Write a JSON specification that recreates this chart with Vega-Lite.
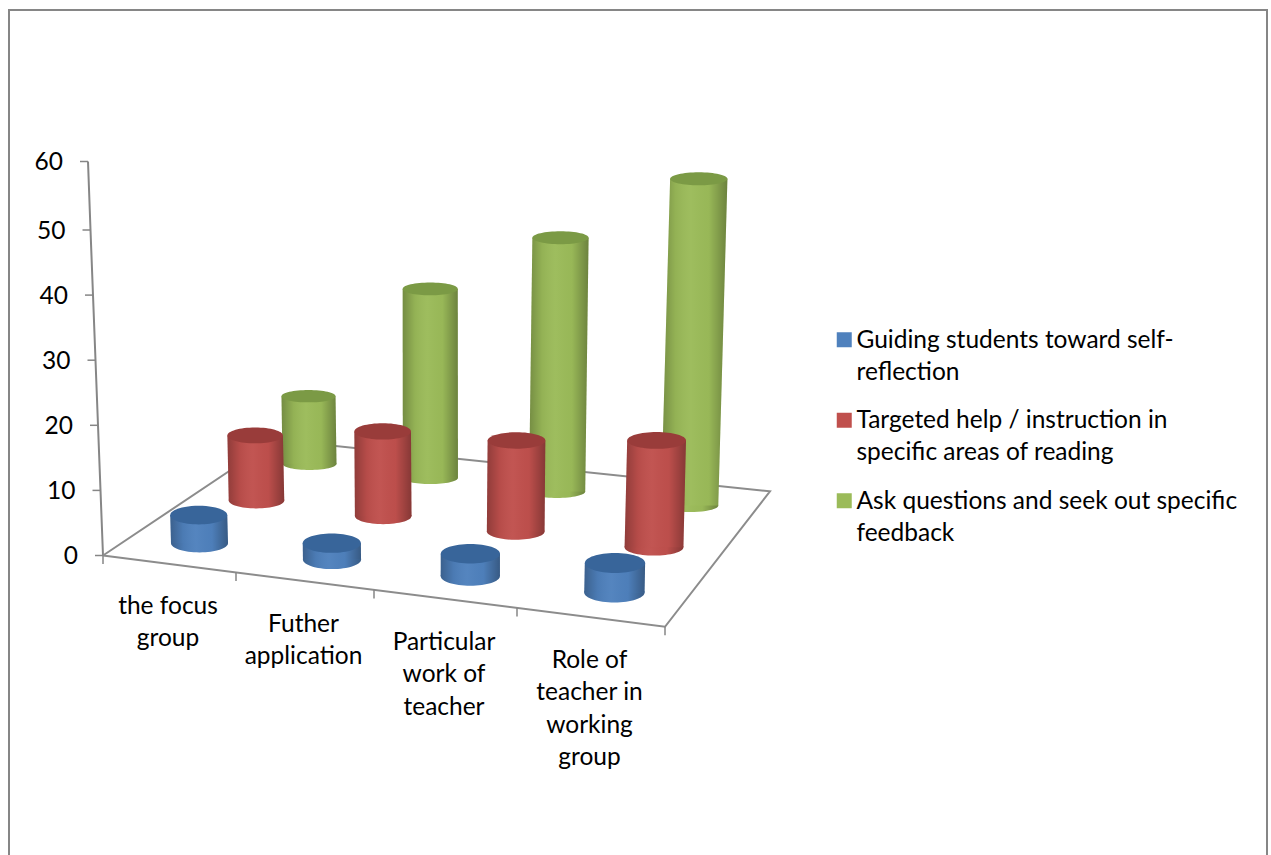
{
"$schema":"https://vega.github.io/schema/vega-lite/v6.json",
"width":1258,"height":850,"autosize":"none",
"padding":{"left":9,"top":10,"right":4,"bottom":0},
"background":"white",
"config":{"view":{"stroke":"#868686","strokeWidth":2},"font":"Lato"},
"datasets":{
"rows":[
{"category":"the focus group","series":"Guiding students toward self-reflection","value":4.3},
{"category":"Futher application","series":"Guiding students toward self-reflection","value":2.5},
{"category":"Particular work of teacher","series":"Guiding students toward self-reflection","value":3.4},
{"category":"Role of teacher in working group","series":"Guiding students toward self-reflection","value":4.5},
{"category":"the focus group","series":"Targeted help / instruction in specific areas of reading","value":10},
{"category":"Futher application","series":"Targeted help / instruction in specific areas of reading","value":13},
{"category":"Particular work of teacher","series":"Targeted help / instruction in specific areas of reading","value":14},
{"category":"Role of teacher in working group","series":"Targeted help / instruction in specific areas of reading","value":16.4},
{"category":"the focus group","series":"Ask questions and seek out specific feedback","value":10.4},
{"category":"Futher application","series":"Ask questions and seek out specific feedback","value":29},
{"category":"Particular work of teacher","series":"Ask questions and seek out specific feedback","value":39},
{"category":"Role of teacher in working group","series":"Ask questions and seek out specific feedback","value":49.8}
],
"ticks":[{"v":0},{"v":10},{"v":20},{"v":30},{"v":40},{"v":50},{"v":60}],
"floor":[{"corner":"front left","seq":0},{"corner":"front right","seq":1},{"corner":"back right","seq":2},{"corner":"back left","seq":3},{"corner":"front left","seq":4}],
"bounds":[{"k":0},{"k":1},{"k":2},{"k":3},{"k":4}],
"labels":[{"label":"the focus\ngroup","n":0},{"label":"Futher\napplication","n":1},{"label":"Particular\nwork of\nteacher","n":2},{"label":"Role of\nteacher in\nworking\ngroup","n":3}]
},
"layer":[
{"data":{"name":"ticks"},"transform":[{"calculate":"94-datum.v*0.25","as":"x"},{"calculate":"datum.x-8","as":"x2"},{"calculate":"datum.x-25","as":"xl"}],
 "layer":[
 {"mark":{"type":"line","color":"#868686","strokeWidth":2},
  "encoding":{"x":{"field":"x","type":"quantitative","scale":{"domain":[0,1258],"nice":false,"zero":false},"axis":null},
   "y":{"field":"v","type":"quantitative","scale":{"domain":[-46.35,0,50,60,83.03],"range":[850,545.5,220,151.5,0],"nice":false,"zero":false},"axis":null},
   "order":{"field":"v"}}},
 {"mark":{"type":"rule","color":"#868686","strokeWidth":1.5},
  "encoding":{"x":{"field":"x","type":"quantitative","axis":null},"x2":{"field":"x2"},"y":{"field":"v","type":"quantitative","axis":null}}},
 {"mark":{"type":"text","font":"Lato","fontSize":24.5,"align":"right","baseline":"middle","dy":1.5,"color":"#000000"},
  "encoding":{"x":{"field":"xl","type":"quantitative","axis":null},"y":{"field":"v","type":"quantitative","axis":null},"text":{"field":"v","type":"quantitative"}}}
 ]},
{"data":{"name":"floor"},
 "transform":[{"calculate":"indexof(['front left','front right','back right','back left'],datum.corner)","as":"c"},
  {"calculate":"(datum.c==1||datum.c==2)?4:0","as":"k"},{"calculate":"datum.c>=2?1:0","as":"d"},
  {"calculate":"94+130.5*datum.k+2.5*datum.k*datum.k","as":"fx"},
  {"calculate":"datum.fx+datum.d*(173-17*datum.k)","as":"x"},
  {"calculate":"(-(datum.fx-94)*0.1268+datum.d*(116.8+4.8*datum.k))/6.57","as":"y"}],
 "mark":{"type":"line","color":"#8c8c8c","strokeWidth":2},
 "encoding":{"x":{"field":"x","type":"quantitative","axis":null},"y":{"field":"y","type":"quantitative","axis":null},"order":{"field":"seq"}}},
{"data":{"name":"bounds"},
 "transform":[{"calculate":"94+130.5*datum.k+2.5*datum.k*datum.k","as":"x"},
  {"calculate":"-(datum.x-94)*0.1268/6.57","as":"y"},{"calculate":"datum.y-1.3","as":"y2"}],
 "mark":{"type":"rule","color":"#868686","strokeWidth":1.5},
 "encoding":{"x":{"field":"x","type":"quantitative","axis":null},"y":{"field":"y","type":"quantitative","axis":null},"y2":{"field":"y2"}}},
{"data":{"name":"labels"},
 "transform":[{"calculate":"159+133*datum.n+2.5*datum.n*datum.n","as":"x"},{"calculate":"(555.5-595-18*datum.n)/6.57","as":"y"}],
 "mark":{"type":"text","lineBreak":"\n","lineHeight":32.5,"font":"Lato","fontSize":24.5,"baseline":"top","align":"center","color":"#000000"},
 "encoding":{"x":{"field":"x","type":"quantitative","axis":null},"y":{"field":"y","type":"quantitative","axis":null},"text":{"field":"label"}}},
{"data":{"name":"rows"},
 "transform":[
 {"calculate":"indexof(['the focus group','Futher application','Particular work of teacher','Role of teacher in working group'],datum.category)","as":"i"},
 {"calculate":"indexof(['Guiding students toward self-reflection','Targeted help / instruction in specific areas of reading','Ask questions and seek out specific feedback'],datum.series)","as":"s"},
 {"calculate":"190.5+129.6*datum.i+2.9*datum.i*datum.i+datum.s*(57-5.8*datum.i)-2*datum.s*(datum.s-1)","as":"x"},
 {"calculate":"(12.5-16.5*datum.i+datum.s*(43+0.8*datum.i)-datum.s*(datum.s-1)/2*(6-0.9*datum.i))/6.57","as":"yb"},
 {"calculate":"datum.yb+datum.value","as":"yt"},
 {"calculate":"datum.x+datum.value*6.57*(-0.038+(datum.x-91)*0.000112)","as":"xt"},
 {"calculate":"57+1.1*datum.i-1.5*datum.s","as":"w"},
 {"calculate":"datum.w*datum.w","as":"sz"}],
 "layer":[
 {"transform":[{"filter":"datum.s==2"}],"layer":[
  {"mark":{"type":"point","filled":true,"opacity":1,"color":"#9BBB59","shape":"M-1,0C-1,-0.127,-0.552,-0.23,0,-0.23C0.552,-0.23,1,-0.127,1,0C1,0.127,0.552,0.23,0,0.23C-0.552,0.23,-1,0.127,-1,0Z"},
   "encoding":{"x":{"field":"x","type":"quantitative","axis":null},"y":{"field":"yb","type":"quantitative","axis":null},"size":{"field":"sz","type":"quantitative","scale":null}}},
  {"mark":{"type":"point","filled":true,"opacity":1,"fill":{"gradient":"linear","x1":0,"y1":0,"x2":1,"y2":0,"stops":[{"offset":0,"color":"rgba(0,0,0,0.25)"},{"offset":0.22,"color":"rgba(0,0,0,0.05)"},{"offset":0.45,"color":"rgba(255,255,255,0.03)"},{"offset":0.72,"color":"rgba(0,0,0,0.02)"},{"offset":1,"color":"rgba(0,0,0,0.3)"}]},"shape":"M-1,0C-1,-0.127,-0.552,-0.23,0,-0.23C0.552,-0.23,1,-0.127,1,0C1,0.127,0.552,0.23,0,0.23C-0.552,0.23,-1,0.127,-1,0Z"},
   "encoding":{"x":{"field":"x","type":"quantitative","axis":null},"y":{"field":"yb","type":"quantitative","axis":null},"size":{"field":"sz","type":"quantitative","scale":null}}},
  {"transform":[{"fold":["yb","yt"],"as":["end","yy"]},{"calculate":"(datum.end=='yb'?datum.x:datum.xt)-datum.w/2","as":"l"},{"calculate":"datum.l+datum.w","as":"r"}],
   "layer":[
   {"mark":{"type":"area","orient":"horizontal","opacity":1},
    "encoding":{"x":{"field":"l","type":"quantitative","axis":null},"x2":{"field":"r"},"y":{"field":"yy","type":"quantitative","axis":null},"detail":{"field":"category"},
     "color":{"field":"series","type":"nominal","scale":{"domain":["Guiding students toward self-reflection","Targeted help / instruction in specific areas of reading","Ask questions and seek out specific feedback"],"range":["#4F81BD","#C0504D","#9BBB59"]},
      "legend":{"orient":"none","legendX":823,"legendY":317.5,"title":null,"symbolType":"square","symbolSize":225,"symbolStrokeWidth":0,"labelFont":"Lato","labelFontSize":24.5,"labelColor":"#000000","labelLimit":500,"labelOffset":0,"rowPadding":23.5,"labelBaseline":"alphabetic",
       "labelExpr":"datum.label=='Guiding students toward self-reflection'?['Guiding students toward self-','reflection']:datum.label=='Targeted help / instruction in specific areas of reading'?['Targeted help / instruction in','specific areas of reading']:['Ask questions and seek out specific','feedback']",
       "encoding":{"labels":{"dy":{"value":8},"lineHeight":{"value":32}}}}}}},
   {"mark":{"type":"area","orient":"horizontal","fill":{"gradient":"linear","x1":0,"y1":0,"x2":1,"y2":0,"stops":[{"offset":0,"color":"rgba(0,0,0,0.25)"},{"offset":0.22,"color":"rgba(0,0,0,0.05)"},{"offset":0.45,"color":"rgba(255,255,255,0.03)"},{"offset":0.72,"color":"rgba(0,0,0,0.02)"},{"offset":1,"color":"rgba(0,0,0,0.3)"}]}},
    "encoding":{"x":{"field":"l","type":"quantitative","axis":null},"x2":{"field":"r"},"y":{"field":"yy","type":"quantitative","axis":null},"detail":{"field":"category"}}}
   ]},
  {"mark":{"type":"point","filled":true,"opacity":1,"color":"#7B9A45","shape":"M-1,0C-1,-0.127,-0.552,-0.23,0,-0.23C0.552,-0.23,1,-0.127,1,0C1,0.127,0.552,0.23,0,0.23C-0.552,0.23,-1,0.127,-1,0Z"},
   "encoding":{"x":{"field":"xt","type":"quantitative","axis":null},"y":{"field":"yt","type":"quantitative","axis":null},"size":{"field":"sz","type":"quantitative","scale":null}}}
 ]},
 {"transform":[{"filter":"datum.s==1"}],"layer":[
  {"mark":{"type":"point","filled":true,"opacity":1,"color":"#C0504D","shape":"M-1,0C-1,-0.157,-0.552,-0.285,0,-0.285C0.552,-0.285,1,-0.157,1,0C1,0.157,0.552,0.285,0,0.285C-0.552,0.285,-1,0.157,-1,0Z"},
   "encoding":{"x":{"field":"x","type":"quantitative","axis":null},"y":{"field":"yb","type":"quantitative","axis":null},"size":{"field":"sz","type":"quantitative","scale":null}}},
  {"mark":{"type":"point","filled":true,"opacity":1,"fill":{"gradient":"linear","x1":0,"y1":0,"x2":1,"y2":0,"stops":[{"offset":0,"color":"rgba(0,0,0,0.25)"},{"offset":0.22,"color":"rgba(0,0,0,0.05)"},{"offset":0.45,"color":"rgba(255,255,255,0.03)"},{"offset":0.72,"color":"rgba(0,0,0,0.02)"},{"offset":1,"color":"rgba(0,0,0,0.3)"}]},"shape":"M-1,0C-1,-0.157,-0.552,-0.285,0,-0.285C0.552,-0.285,1,-0.157,1,0C1,0.157,0.552,0.285,0,0.285C-0.552,0.285,-1,0.157,-1,0Z"},
   "encoding":{"x":{"field":"x","type":"quantitative","axis":null},"y":{"field":"yb","type":"quantitative","axis":null},"size":{"field":"sz","type":"quantitative","scale":null}}},
  {"transform":[{"fold":["yb","yt"],"as":["end","yy"]},{"calculate":"(datum.end=='yb'?datum.x:datum.xt)-datum.w/2","as":"l"},{"calculate":"datum.l+datum.w","as":"r"}],
   "layer":[
   {"mark":{"type":"area","orient":"horizontal","opacity":1},
    "encoding":{"x":{"field":"l","type":"quantitative","axis":null},"x2":{"field":"r"},"y":{"field":"yy","type":"quantitative","axis":null},"detail":{"field":"category"},"color":{"field":"series","type":"nominal"}}},
   {"mark":{"type":"area","orient":"horizontal","fill":{"gradient":"linear","x1":0,"y1":0,"x2":1,"y2":0,"stops":[{"offset":0,"color":"rgba(0,0,0,0.25)"},{"offset":0.22,"color":"rgba(0,0,0,0.05)"},{"offset":0.45,"color":"rgba(255,255,255,0.03)"},{"offset":0.72,"color":"rgba(0,0,0,0.02)"},{"offset":1,"color":"rgba(0,0,0,0.3)"}]}},
    "encoding":{"x":{"field":"l","type":"quantitative","axis":null},"x2":{"field":"r"},"y":{"field":"yy","type":"quantitative","axis":null},"detail":{"field":"category"}}}
   ]},
  {"mark":{"type":"point","filled":true,"opacity":1,"color":"#993C3A","shape":"M-1,0C-1,-0.157,-0.552,-0.285,0,-0.285C0.552,-0.285,1,-0.157,1,0C1,0.157,0.552,0.285,0,0.285C-0.552,0.285,-1,0.157,-1,0Z"},
   "encoding":{"x":{"field":"xt","type":"quantitative","axis":null},"y":{"field":"yt","type":"quantitative","axis":null},"size":{"field":"sz","type":"quantitative","scale":null}}}
 ]},
 {"transform":[{"filter":"datum.s==0"}],"layer":[
  {"mark":{"type":"point","filled":true,"opacity":1,"color":"#4F81BD","shape":"M-1,0C-1,-0.182,-0.552,-0.33,0,-0.33C0.552,-0.33,1,-0.182,1,0C1,0.182,0.552,0.33,0,0.33C-0.552,0.33,-1,0.182,-1,0Z"},
   "encoding":{"x":{"field":"x","type":"quantitative","axis":null},"y":{"field":"yb","type":"quantitative","axis":null},"size":{"field":"sz","type":"quantitative","scale":null}}},
  {"mark":{"type":"point","filled":true,"opacity":1,"fill":{"gradient":"linear","x1":0,"y1":0,"x2":1,"y2":0,"stops":[{"offset":0,"color":"rgba(0,0,0,0.25)"},{"offset":0.22,"color":"rgba(0,0,0,0.05)"},{"offset":0.45,"color":"rgba(255,255,255,0.03)"},{"offset":0.72,"color":"rgba(0,0,0,0.02)"},{"offset":1,"color":"rgba(0,0,0,0.3)"}]},"shape":"M-1,0C-1,-0.182,-0.552,-0.33,0,-0.33C0.552,-0.33,1,-0.182,1,0C1,0.182,0.552,0.33,0,0.33C-0.552,0.33,-1,0.182,-1,0Z"},
   "encoding":{"x":{"field":"x","type":"quantitative","axis":null},"y":{"field":"yb","type":"quantitative","axis":null},"size":{"field":"sz","type":"quantitative","scale":null}}},
  {"transform":[{"fold":["yb","yt"],"as":["end","yy"]},{"calculate":"(datum.end=='yb'?datum.x:datum.xt)-datum.w/2","as":"l"},{"calculate":"datum.l+datum.w","as":"r"}],
   "layer":[
   {"mark":{"type":"area","orient":"horizontal","opacity":1},
    "encoding":{"x":{"field":"l","type":"quantitative","axis":null},"x2":{"field":"r"},"y":{"field":"yy","type":"quantitative","axis":null},"detail":{"field":"category"},"color":{"field":"series","type":"nominal"}}},
   {"mark":{"type":"area","orient":"horizontal","fill":{"gradient":"linear","x1":0,"y1":0,"x2":1,"y2":0,"stops":[{"offset":0,"color":"rgba(0,0,0,0.25)"},{"offset":0.22,"color":"rgba(0,0,0,0.05)"},{"offset":0.45,"color":"rgba(255,255,255,0.03)"},{"offset":0.72,"color":"rgba(0,0,0,0.02)"},{"offset":1,"color":"rgba(0,0,0,0.3)"}]}},
    "encoding":{"x":{"field":"l","type":"quantitative","axis":null},"x2":{"field":"r"},"y":{"field":"yy","type":"quantitative","axis":null},"detail":{"field":"category"}}}
   ]},
  {"mark":{"type":"point","filled":true,"opacity":1,"color":"#38659A","shape":"M-1,0C-1,-0.182,-0.552,-0.33,0,-0.33C0.552,-0.33,1,-0.182,1,0C1,0.182,0.552,0.33,0,0.33C-0.552,0.33,-1,0.182,-1,0Z"},
   "encoding":{"x":{"field":"xt","type":"quantitative","axis":null},"y":{"field":"yt","type":"quantitative","axis":null},"size":{"field":"sz","type":"quantitative","scale":null}}}
 ]}
 ]}
]
}
